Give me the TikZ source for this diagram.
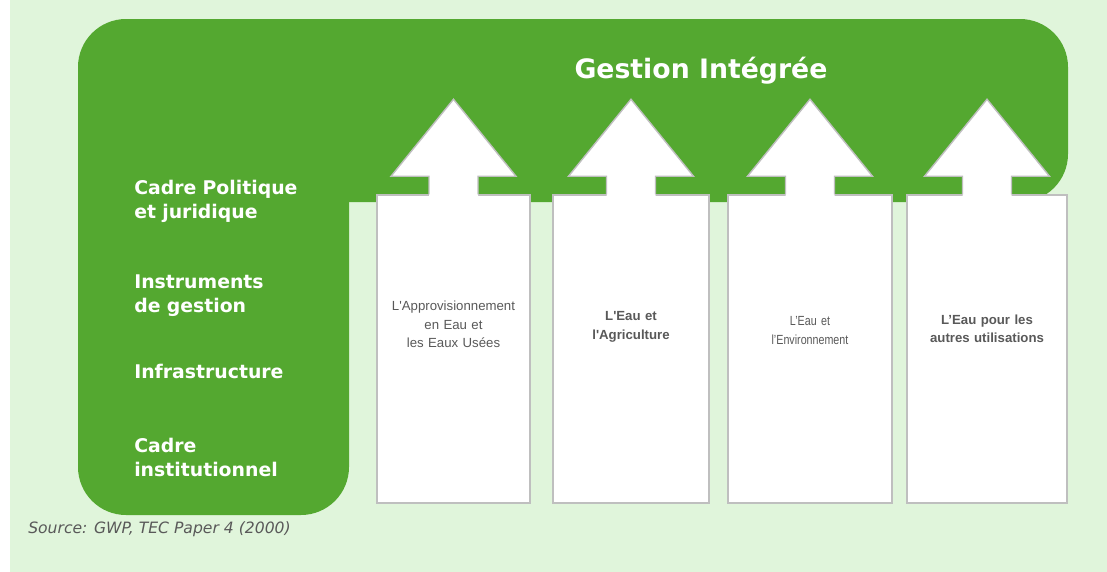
\documentclass[tikz,border=0pt]{standalone}
\usepackage{fontspec}
\setmainfont{DejaVu Sans}
\newfontfamily\colfont{Liberation Sans}
\newfontfamily\colcondfont[FakeStretch=0.81]{Liberation Sans}
\usetikzlibrary{calc, positioning}
\definecolor{gwpgreen}{HTML}{54A830}
\definecolor{gwplight}{HTML}{E0F5DB}
\definecolor{pillargray}{HTML}{BFBFBF}
\definecolor{labelgray}{HTML}{595959}

\begin{document}
\begin{tikzpicture}[x=0.025cm, y=-0.025cm,
        pillar/.style={draw=pillargray, line width=1pt, fill=white, inner sep=0pt, minimum height=7.7cm},
        pillar head/.pic={
            \fill[white] (-24.5,1.5) -- (-24.5,-18) -- (-62.5,-18) -- (0,-95) -- (62.5,-18) -- (24.5,-18) -- (24.5,1.5) -- cycle;
            \draw[draw=pillargray, line width=1pt] (-24.5,0) -- (-24.5,-18) -- (-62.5,-18) -- (0,-95) -- (62.5,-18) -- (24.5,-18) -- (24.5,0);},
        sidelabel/.style={text=white, font=\bfseries\fontsize{13.4}{17.3}\selectfont, text width=4.5cm, align=left, inner sep=0pt, anchor=base west},
        pillartext/.style={text=labelgray, font={#1\fontsize{9.4}{13}\selectfont}, text width=3.6cm, align=center, inner sep=0pt, anchor=base},
        pillartext/.default=\colfont]
    \useasboundingbox (0,0) rectangle (1107,572);
    \fill[gwplight] (10,0) rectangle (1107,572);
    % green frame
    \fill[gwpgreen, rounded corners=1.2cm] (78,19) rectangle (1068,202);
    \fill[gwpgreen, rounded corners=1.2cm] (78,100) rectangle (349,515);
    \node[text=white, font=\bfseries\fontsize{19}{23}\selectfont, anchor=base, inner sep=0pt] (gestion) at (701,78) {Gestion Intégrée};
    \node[sidelabel] (politique) at (134,194) {Cadre Politique\\et juridique};
    \node[sidelabel] (instruments) at (134,288.3) {Instruments\\de gestion};
    \node[sidelabel] (infrastructure) at (134,378.3) {Infrastructure};
    \node[sidelabel] (institution) at (134,452) {Cadre\\institutionnel};
    % pillars
    \node[pillar, minimum width=3.825cm] (eau1) at (453.5,349) {};
    \node[pillar, minimum width=3.9cm] (eau2) at (631,349) {};
    \node[pillar, minimum width=4.1cm] (eau3) at (810,349) {};
    \node[pillar, minimum width=4cm] (eau4) at (987,349) {};
    \pic at (eau1.north) {pillar head};
    \pic at (eau2.north) {pillar head};
    \pic at (eau3.north) {pillar head};
    \pic at (eau4.north) {pillar head};
    \node[pillartext] (approvisionnement) at ($(eau1.north)+(0,116.7)$) {L\textquotesingle Approvisionnement\\en Eau et\\les Eaux Usées};
    \node[pillartext=\colfont\bfseries] (agriculture) at ($(eau2.north)+(0,126.7)$) {L\textquotesingle Eau et\\l\textquotesingle Agriculture};
    \node[pillartext=\colcondfont] (environnement) at ($(eau3.north)+(0,131.7)$) {L’Eau et\\l’Environnement};
    \node[pillartext=\colfont\bfseries] (utilisations) at ($(eau4.north)+(0,130)$) {L’Eau pour les\\autres utilisations};
    \node[text=labelgray, font=\itshape\fontsize{11.1}{13}\selectfont, anchor=base west, inner sep=0pt] (source) at (28,533) {Source: GWP, TEC Paper 4 (2000)};
\end{tikzpicture}
\end{document}
